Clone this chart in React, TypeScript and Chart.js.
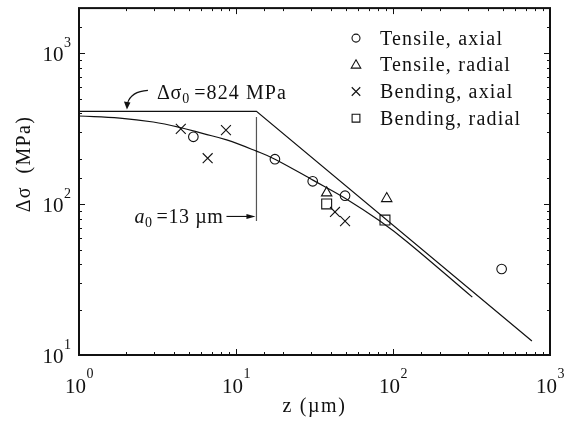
import React, { useEffect, useRef } from 'react';
import { Chart, registerables } from 'chart.js';

Chart.register(...registerables);

// ---------- data ----------
const xRange = [1, 1000];
const yRange = [10, 2000];

const legendLabels = ['Tensile, axial', 'Tensile, radial', 'Bending, axial', 'Bending, radial'];

const tensileAxialZ = [5.35, 17.7, 30.8, 49.5, 492];
const tensileAxialS = [280, 199, 142, 114, 37.2];

const tensileRadialZ = [37.8, 91.2];
const tensileRadialS = [119, 109];

const bendingAxialZ = [4.45, 8.63, 6.6, 42.7, 49.5];
const bendingAxialS = [316, 310, 202, 88.9, 77.3];

const bendingRadialZ = [37.8, 88.9];
const bendingRadialS = [100.5, 78.5];

// bilinear threshold (plateau at Δσ0/2, then sloped line)
const bilinearZ = [1, 13.5, 767];
const bilinearS = [413, 413, 12.4];

// smooth model curve
const curveZ = [1, 1.82, 2.97, 4.4, 6.19, 8.72, 13.5, 17.7, 31.1, 50.7, 82.6, 125, 320];
const curveS = [385, 373, 351, 323, 294, 267, 225, 199, 144, 108, 77.3, 55.6, 24.2];

// a0 marker line
const a0Z = [13.5, 13.5];
const a0S = [379, 77.3];

const sigma0Text = '=824 MPa';
const a0Text = '=13 µm';
const sigma0ArrowTip = { z: 2.02, s: 413 };
const a0ArrowLevel = 83;

const pts = (xs: number[], ys: number[]) => xs.map((x, i) => ({ x, y: ys[i] }));

const SERIF = '"Liberation Serif", "DejaVu Serif", serif';

function drawMarker(ctx: CanvasRenderingContext2D, style: string, x: number, y: number, r: number) {
  ctx.beginPath();
  if (style === 'circle') {
    ctx.arc(x, y, r, 0, Math.PI * 2);
  } else if (style === 'triangle') {
    const h = r * 1.5;
    const w = r * 1.732;
    ctx.moveTo(x, y - h * 0.6);
    ctx.lineTo(x + w / 2, y + h * 0.4);
    ctx.lineTo(x - w / 2, y + h * 0.4);
    ctx.closePath();
  } else if (style === 'crossRot') {
    const d = r * 0.707;
    ctx.moveTo(x - d, y - d);
    ctx.lineTo(x + d, y + d);
    ctx.moveTo(x - d, y + d);
    ctx.lineTo(x + d, y - d);
  } else {
    const d = r * 0.707;
    ctx.rect(x - d, y - d, 2 * d, 2 * d);
  }
  ctx.stroke();
}

const isDecade = (v: number) => Math.abs(Math.log10(v) - Math.round(Math.log10(v))) < 1e-9;

const setSpacing = (ctx: any, px: number) => {
  ctx.letterSpacing = `${px}px`;
};

const decorPlugin = {
  id: 'decor',
  afterDraw(chart: any) {
    const ctx: CanvasRenderingContext2D = chart.ctx;
    const xs = chart.scales.x;
    const ys = chart.scales.y;
    const { left, right, top, bottom } = chart.chartArea;
    ctx.save();
    ctx.strokeStyle = '#111';
    ctx.fillStyle = '#111';

    // frame
    ctx.lineWidth = 2;
    ctx.strokeRect(left, top, right - left, bottom - top);

    // inward ticks
    ctx.lineWidth = 1;
    xs.ticks.forEach((t: any) => {
      const v = t.value;
      if (v <= xs.min || v >= xs.max) return;
      const px = Math.round(xs.getPixelForValue(v)) + 0.5;
      const len = isDecade(v) ? 6 : 3;
      ctx.beginPath();
      ctx.moveTo(px, bottom);
      ctx.lineTo(px, bottom - len);
      ctx.moveTo(px, top);
      ctx.lineTo(px, top + len);
      ctx.stroke();
    });
    ys.ticks.forEach((t: any) => {
      const v = t.value;
      if (v <= ys.min || v >= ys.max) return;
      const py = Math.round(ys.getPixelForValue(v)) + 0.5;
      const len = isDecade(v) ? 6 : 3;
      ctx.beginPath();
      ctx.moveTo(left, py);
      ctx.lineTo(left + len, py);
      ctx.moveTo(right, py);
      ctx.lineTo(right - len, py);
      ctx.stroke();
    });

    // tick labels 10^n
    const mainFont = `21px ${SERIF}`;
    const supFont = `14px ${SERIF}`;
    ctx.textBaseline = 'alphabetic';
    xs.ticks.forEach((t: any) => {
      const v = t.value;
      if (!isDecade(v)) return;
      const e = String(Math.round(Math.log10(v)));
      ctx.font = mainFont;
      const w1 = ctx.measureText('10').width;
      ctx.font = supFont;
      const w2 = ctx.measureText(e).width;
      const px = xs.getPixelForValue(v);
      const x0 = px - (w1 + w2) / 2;
      ctx.textAlign = 'left';
      ctx.font = mainFont;
      ctx.fillText('10', x0, bottom + 38);
      ctx.font = supFont;
      ctx.fillText(e, x0 + w1 + 0.5, bottom + 23);
    });
    ys.ticks.forEach((t: any) => {
      const v = t.value;
      if (!isDecade(v)) return;
      const e = String(Math.round(Math.log10(v)));
      const py = ys.getPixelForValue(v);
      ctx.font = supFont;
      const w2 = ctx.measureText(e).width;
      const xEnd = left - 8;
      ctx.textAlign = 'left';
      ctx.fillText(e, xEnd - w2, py - 6);
      ctx.textAlign = 'right';
      ctx.font = mainFont;
      ctx.fillText('10', xEnd - w2 - 0.5, py + 8);
    });

    // axis titles
    ctx.font = `20px ${SERIF}`;
    ctx.textAlign = 'center';
    setSpacing(ctx, 1.6);
    ctx.fillText('z (µm)', (left + right) / 2, bottom + 57);
    ctx.save();
    ctx.translate(left - 54, top + 156);
    ctx.rotate(-Math.PI / 2);
    ctx.textBaseline = 'middle';
    setSpacing(ctx, 1.3);
    ctx.fillText('Δσ  (MPa)', 0, 0);
    ctx.restore();
    setSpacing(ctx, 0);

    // legend
    const styles = ['circle', 'triangle', 'crossRot', 'rect'];
    const sizes = [4, 5.5, 6, 5.5];
    ctx.lineWidth = 1.1;
    legendLabels.forEach((lab, i) => {
      const cy = top + 30 + i * 26.7;
      drawMarker(ctx, styles[i], right - 194, cy, sizes[i]);
      ctx.font = `20px ${SERIF}`;
      ctx.textAlign = 'left';
      ctx.textBaseline = 'alphabetic';
      setSpacing(ctx, 1.2);
      ctx.fillText(lab, right - 170, cy + 6.5);
      setSpacing(ctx, 0);
    });

    // Δσ0 annotation with curved arrow
    const tipX = xs.getPixelForValue(sigma0ArrowTip.z);
    const tipY = ys.getPixelForValue(sigma0ArrowTip.s) - 2;
    ctx.lineWidth = 1.1;
    ctx.beginPath();
    ctx.moveTo(tipX + 21, tipY - 19);
    ctx.quadraticCurveTo(tipX + 4, tipY - 18, tipX + 0.5, tipY - 6);
    ctx.stroke();
    ctx.beginPath();
    ctx.moveTo(tipX, tipY);
    ctx.lineTo(tipX - 3, tipY - 8);
    ctx.lineTo(tipX + 3.5, tipY - 7);
    ctx.closePath();
    ctx.fill();

    let tx = tipX + 30;
    const tyBase = tipY - 10;
    ctx.textAlign = 'left';
    ctx.textBaseline = 'alphabetic';
    ctx.font = `20px ${SERIF}`;
    setSpacing(ctx, 0.8);
    ctx.fillText('Δσ', tx, tyBase);
    tx += ctx.measureText('Δσ').width;
    setSpacing(ctx, 0);
    ctx.font = `14px ${SERIF}`;
    ctx.fillText('0', tx, tyBase + 4);
    tx += ctx.measureText('0').width + 5;
    ctx.font = `20px ${SERIF}`;
    setSpacing(ctx, 1.1);
    ctx.fillText(sigma0Text, tx, tyBase);
    setSpacing(ctx, 0);

    // a0 annotation with straight arrow
    const a0px = xs.getPixelForValue(a0Z[0]);
    const ay = ys.getPixelForValue(a0ArrowLevel);
    ctx.beginPath();
    ctx.moveTo(a0px - 30, ay);
    ctx.lineTo(a0px - 6, ay);
    ctx.stroke();
    ctx.beginPath();
    ctx.moveTo(a0px - 1, ay);
    ctx.lineTo(a0px - 10, ay - 2.5);
    ctx.lineTo(a0px - 10, ay + 2.5);
    ctx.closePath();
    ctx.fill();

    ctx.font = `20px ${SERIF}`;
    setSpacing(ctx, 0.6);
    const wEq = ctx.measureText(a0Text).width;
    setSpacing(ctx, 0);
    ctx.font = `14px ${SERIF}`;
    const wSub = ctx.measureText('0').width;
    ctx.font = `italic 20px ${SERIF}`;
    const wA = ctx.measureText('a').width;
    const endX = a0px - 33;
    let ax = endX - (wA + wSub + 5 + wEq);
    const ab = ay + 7;
    ctx.fillText('a', ax, ab);
    ax += wA + 0.5;
    ctx.font = `14px ${SERIF}`;
    ctx.fillText('0', ax, ab + 4);
    ax += wSub + 4.5;
    ctx.font = `20px ${SERIF}`;
    setSpacing(ctx, 0.6);
    ctx.fillText(a0Text, ax, ab);
    setSpacing(ctx, 0);

    ctx.restore();
  },
};

export default function App() {
  const ref = useRef<HTMLCanvasElement | null>(null);

  useEffect(() => {
    if (!ref.current) return;
    const lineDs = (data: any, color: string, extra: any = {}) => ({
      type: 'line',
      data,
      showLine: true,
      borderColor: color,
      borderWidth: 1.2,
      pointRadius: 0,
      fill: false,
      tension: 0,
      ...extra,
    });
    const markerDs = (data: any, style: string, r: number) => ({
      type: 'scatter',
      data,
      pointStyle: style,
      pointRadius: r,
      pointBorderColor: '#111',
      pointBackgroundColor: 'rgba(0,0,0,0)',
      pointBorderWidth: 1.1,
      borderColor: '#111',
      backgroundColor: 'rgba(0,0,0,0)',
      showLine: false,
    });

    const chart = new Chart(ref.current, {
      type: 'scatter',
      data: {
        datasets: [
          lineDs(pts(bilinearZ, bilinearS), '#111'),
          lineDs(pts(curveZ, curveS), '#111', { tension: 0.4 }),
          lineDs(pts(a0Z, a0S), '#555'),
          markerDs(pts(tensileAxialZ, tensileAxialS), 'circle', 4.8),
          markerDs(pts(tensileRadialZ, tensileRadialS), 'triangle', 6),
          markerDs(pts(bendingAxialZ, bendingAxialS), 'crossRot', 7),
          markerDs(pts(bendingRadialZ, bendingRadialS), 'rect', 7),
        ] as any,
      },
      options: {
        responsive: false,
        animation: false,
        events: [],
        layout: { padding: { left: 0, top: 5, right: 15, bottom: 0 } },
        plugins: { legend: { display: false }, tooltip: { enabled: false } },
        scales: {
          x: {
            type: 'logarithmic',
            min: xRange[0],
            max: xRange[1],
            grid: { display: false },
            border: { display: false },
            ticks: { display: false },
            afterFit: (s: any) => { s.height = 75; },
          },
          y: {
            type: 'logarithmic',
            min: yRange[0],
            max: yRange[1],
            grid: { display: false },
            border: { display: false },
            ticks: { display: false },
            afterFit: (s: any) => { s.width = 79; },
          },
        },
      } as any,
      plugins: [decorPlugin],
    });
    return () => chart.destroy();
  }, []);

  return (
    <div style={{ position: 'absolute', left: 0, top: 0, width: 565, height: 430, background: '#fff' }}>
      <canvas ref={ref} width={565} height={430} style={{ display: 'block', width: 565, height: 430 }} />
    </div>
  );
}
